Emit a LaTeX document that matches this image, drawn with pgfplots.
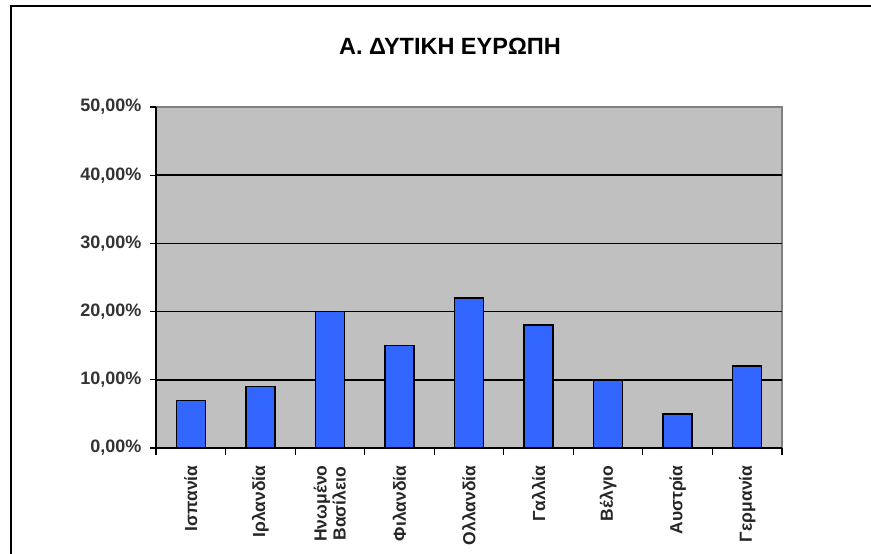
\documentclass[border=0pt]{standalone}
\usepackage{fontspec}
\setmainfont{Liberation Sans}
\usepackage{pgfplots}
\pgfplotsset{compat=1.18}
\definecolor{barblue}{RGB}{51,102,255}
\definecolor{plotgray}{RGB}{192,192,192}
\definecolor{edgegray}{RGB}{128,128,128}

\begin{document}
\begin{tikzpicture}[x=1pt,y=1pt]
\useasboundingbox (0,0) rectangle (871,554);
\draw[line width=1.5pt] (11,0) -- (11,548) -- (871,548);
\node[font=\bfseries\fontsize{23.5}{26}\selectfont] at (450,508) {Α. ΔΥΤΙΚΗ ΕΥΡΩΠΗ};
\begin{axis}[
    at={(156pt,106pt)}, anchor=south west,
    scale only axis, width=626pt, height=341pt,
    axis background/.style={fill=plotgray, draw=edgegray, line width=1.5pt},
    axis x line*=bottom, axis y line*=left,
    axis line style={line width=1.2pt, black},
    ymin=0, ymax=50,
    xmin=-0.5, xmax=8.5,
    ybar, bar width=29pt,
    ytick={0,10,20,30,40,50},
    yticklabels={{0,00\%},{10,00\%},{20,00\%},{30,00\%},{40,00\%},{50,00\%}},
    extra y ticks={10,20,30,40},
    extra y tick labels={},
    extra y tick style={grid=major, major tick length=0pt},
    major grid style={black, line width=1.5pt},
    xtick={0,...,8},
    xticklabels={Ισπανία,Ιρλανδία,{Ηνωμένο\\Βασίλειο},Φιλανδία,Ολλανδία,Γαλλία,Βέλγιο,Αυστρία,Γερμανία},
    minor xtick={-0.5,0.5,...,8.5},
    tick align=outside,
    major tick length=6pt,
    minor tick length=7pt,
    major x tick style={draw=none},
    tick style={line width=1.2pt, black},
    xticklabel style={rotate=90, anchor=east, align=center, font=\bfseries\fontsize{17.5}{19}\selectfont, color=black!85},
    xticklabel shift=8pt,
    yticklabel style={font=\bfseries\fontsize{18}{20}\selectfont, color=black!80},
    yticklabel shift=5pt,
]
\addplot[fill=barblue, draw=black, line width=1.5pt] coordinates {
    (0,7) (1,9) (2,20) (3,15) (4,22) (5,18) (6,10) (7,5) (8,12)
};
\end{axis}
\end{tikzpicture}
\end{document}
